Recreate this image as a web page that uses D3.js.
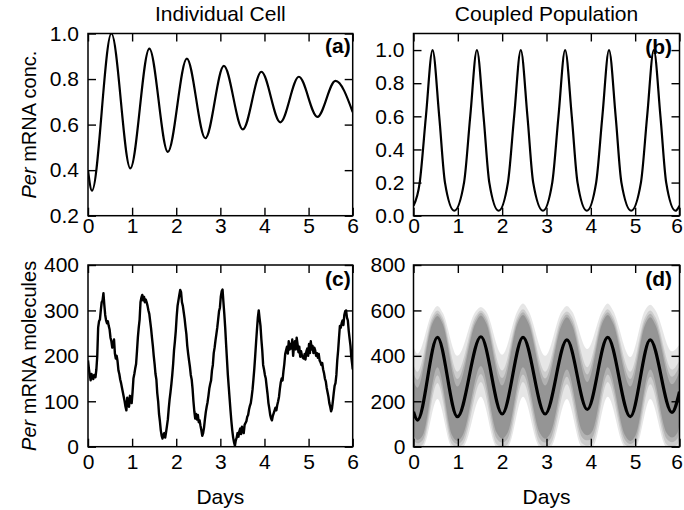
<!DOCTYPE html>
<html><head><meta charset="utf-8">
<script src="https://cdn.jsdelivr.net/npm/d3@7"></script>
<style>body{margin:0;background:#fff}svg{display:block}</style>
</head><body><svg id="c" width="684" height="510"></svg>
<script>
// ---------- data ----------
const dayTicks = [0, 1, 2, 3, 4, 5, 6];
const aTicks = [0.2, 0.4, 0.6, 0.8, 1.0];
const bTicks = [0.0, 0.2, 0.4, 0.6, 0.8, 1.0];
const cTicks = [0, 100, 200, 300, 400];
const dTicks = [0, 200, 400, 600, 800];

// (a) individual cell, deterministic
const aDays = [0, 0.09, 0.53, 0.96, 1.39, 1.81, 2.24, 2.66, 3.08, 3.51, 3.93, 4.36, 4.78, 5.2, 5.61, 6.0];
const aConc = [0.40, 0.31, 1.0, 0.408, 0.934, 0.48, 0.89, 0.54, 0.858, 0.579, 0.832, 0.61, 0.81, 0.634, 0.792, 0.655];

// (b) coupled population, deterministic
const bDays = [0, 0.14, 0.28, 0.43, 0.58, 0.71, 0.92, 1.14, 1.28, 1.43, 1.58, 1.71, 1.92, 2.13, 2.27, 2.42, 2.57, 2.70, 2.92,
  3.13, 3.27, 3.42, 3.57, 3.70, 3.91, 4.12, 4.26, 4.41, 4.56, 4.69, 4.91, 5.13, 5.27, 5.42, 5.57, 5.70, 5.91, 6.0];
const bConc = [0.06, 0.20, 0.60, 1.0, 0.60, 0.20, 0.03, 0.20, 0.60, 1.0, 0.60, 0.20, 0.03, 0.20, 0.60, 1.0, 0.60, 0.20, 0.03,
  0.20, 0.60, 1.0, 0.60, 0.20, 0.03, 0.20, 0.60, 1.0, 0.60, 0.20, 0.03, 0.20, 0.60, 1.0, 0.60, 0.20, 0.03, 0.06];

// (c) individual cell, stochastic
const cDays = [0.00,0.02,0.04,0.06,0.08,0.10,0.12,0.14,0.17,0.19,0.21,0.23,0.25,0.27,0.29,0.31,0.33,0.35,0.37,0.39,
  0.41,0.43,0.45,0.47,0.49,0.51,0.53,0.55,0.57,0.59,0.61,0.63,0.65,0.67,0.69,0.71,0.73,0.75,0.77,0.79,
  0.81,0.83,0.85,0.87,0.89,0.91,0.93,0.95,0.97,0.99,1.01,1.03,1.05,1.07,1.09,1.11,1.13,1.15,1.17,1.19,
  1.21,1.23,1.25,1.27,1.29,1.31,1.33,1.35,1.37,1.39,1.41,1.43,1.45,1.47,1.49,1.51,1.53,1.55,1.57,1.59,
  1.61,1.63,1.65,1.67,1.69,1.71,1.73,1.75,1.77,1.79,1.81,1.83,1.85,1.87,1.89,1.91,1.93,1.95,1.97,1.99,
  2.01,2.03,2.05,2.07,2.09,2.11,2.13,2.15,2.17,2.19,2.21,2.23,2.25,2.27,2.29,2.31,2.33,2.35,2.37,2.39,
  2.41,2.43,2.45,2.47,2.49,2.51,2.53,2.55,2.57,2.59,2.61,2.63,2.65,2.67,2.69,2.71,2.73,2.75,2.77,2.79,
  2.81,2.83,2.85,2.87,2.89,2.91,2.93,2.95,2.97,2.99,3.01,3.03,3.05,3.07,3.09,3.11,3.13,3.15,3.17,3.19,
  3.21,3.23,3.25,3.27,3.29,3.31,3.33,3.35,3.37,3.39,3.41,3.43,3.45,3.47,3.49,3.51,3.53,3.55,3.57,3.59,
  3.61,3.63,3.65,3.67,3.69,3.71,3.73,3.75,3.77,3.79,3.81,3.83,3.85,3.87,3.89,3.91,3.93,3.95,3.97,3.99,
  4.01,4.03,4.05,4.07,4.09,4.11,4.13,4.15,4.17,4.19,4.21,4.23,4.25,4.27,4.29,4.31,4.33,4.35,4.37,4.39,
  4.41,4.43,4.45,4.47,4.49,4.51,4.53,4.55,4.57,4.59,4.61,4.63,4.65,4.67,4.69,4.71,4.73,4.75,4.77,4.79,
  4.81,4.83,4.85,4.87,4.89,4.91,4.93,4.95,4.97,4.99,5.01,5.03,5.05,5.07,5.09,5.11,5.13,5.15,5.17,5.19,
  5.21,5.23,5.25,5.27,5.29,5.31,5.33,5.35,5.37,5.39,5.41,5.43,5.45,5.47,5.49,5.51,5.53,5.55,5.57,5.59,
  5.61,5.63,5.65,5.67,5.69,5.71,5.73,5.75,5.77,5.79,5.81,5.83,5.85,5.87,5.89,5.91,5.93,5.95,5.97,5.99,6.00];
const cMolecules = [190,172,158,146,160,152,149,158,153,170,200,262,276,280,300,318,322,338,312,290,
  278,272,276,266,258,240,232,218,226,236,205,194,200,188,168,160,148,140,130,120,
  110,100,88,80,108,96,88,112,104,96,120,150,160,172,182,210,240,262,280,318,
  328,334,322,330,318,324,318,310,300,292,276,260,240,222,200,182,160,148,118,100,
  72,56,36,24,18,26,30,20,32,46,60,84,104,120,138,158,182,212,232,255,
  286,310,322,334,345,340,318,310,296,282,264,248,222,205,190,176,158,148,128,100,
  78,62,72,60,70,54,58,46,36,24,30,42,60,76,88,98,112,128,138,146,
  168,180,206,218,234,248,262,280,298,306,330,342,346,318,292,262,226,192,158,132,
  106,80,56,36,20,10,2,14,20,30,22,34,40,28,44,36,30,48,52,56,
  66,70,82,90,96,110,126,148,172,200,230,258,284,300,282,266,236,212,180,170,
  158,150,132,116,96,84,70,62,58,68,74,80,86,80,92,100,110,128,142,150,
  146,166,182,204,212,220,205,232,214,226,216,236,200,222,232,214,240,226,208,220,
  198,210,200,196,194,204,192,210,216,200,226,206,232,214,222,206,218,212,200,206,
  196,204,190,186,180,184,170,162,150,144,130,120,110,96,88,78,84,100,118,134,
  140,158,190,212,240,266,262,272,278,268,290,298,300,284,278,255,238,222,196,180,170];

// (d) coupled population: ensemble mean and spread of single-cell traces
const dDays = [0, 0.09, 0.54, 0.99, 1.52, 2.0, 2.47, 2.97, 3.46, 3.92, 4.38, 4.89, 5.34, 5.83, 6.0];
const dMean = [154, 117, 481, 132, 484, 144, 481, 144, 470, 164, 481, 132, 470, 151, 242];
// upper edges of the grey cloud (outer haze -> dense core)
const dHiDays = [0, 0.09, 0.42, 0.54, 0.66, 0.99, 1.40, 1.52, 1.64, 2.0, 2.35, 2.47, 2.59, 2.97,
  3.34, 3.46, 3.58, 3.92, 4.26, 4.38, 4.50, 4.89, 5.22, 5.34, 5.46, 5.83, 6.0];
const outerHi = [440, 410, 590, 620, 590, 400, 595, 615, 595, 405, 600, 630, 600, 400,
  595, 620, 595, 430, 600, 630, 600, 395, 600, 625, 600, 420, 450];
const midHi = [360, 330, 570, 600, 570, 330, 575, 600, 575, 335, 575, 605, 575, 330,
  570, 595, 570, 350, 575, 605, 575, 330, 570, 600, 570, 340, 380];
const innerHi = [325, 295, 555, 588, 555, 298, 560, 590, 560, 302, 560, 592, 560, 300,
  552, 582, 552, 318, 560, 592, 560, 298, 552, 585, 552, 308, 355];
const coreHi = [290, 260, 540, 575, 540, 265, 545, 578, 545, 270, 545, 580, 545, 270,
  535, 570, 535, 285, 545, 580, 545, 265, 535, 570, 535, 275, 330];
// lower edges of the grey cloud
const dLoDays = [0, 0.09, 0.21, 0.54, 0.87, 0.99, 1.11, 1.52, 1.88, 2.0, 2.12, 2.47, 2.85, 2.97,
  3.09, 3.46, 3.80, 3.92, 4.04, 4.38, 4.77, 4.89, 5.01, 5.34, 5.71, 5.83, 5.95, 6.0];
const outerLo = [0, 0, 0, 210, 0, 0, 0, 220, 0, 0, 0, 220, 0, 0,
  0, 210, 0, 0, 0, 220, 0, 0, 0, 210, 0, 0, 0, 0];
const midLo = [10, 0, 10, 280, 10, 0, 10, 285, 10, 0, 10, 285, 10, 0,
  10, 275, 15, 5, 15, 285, 10, 0, 10, 275, 10, 0, 10, 40];
const innerLo = [30, 15, 30, 315, 30, 12, 30, 320, 35, 18, 35, 318, 35, 18,
  35, 308, 42, 28, 42, 318, 30, 12, 30, 308, 35, 20, 35, 70];
const coreLo = [50, 30, 50, 350, 50, 25, 50, 355, 60, 35, 60, 350, 60, 35,
  60, 340, 70, 50, 70, 350, 50, 25, 50, 340, 60, 40, 60, 100];

// ---------- drawing ----------
const FONT = "'Liberation Sans', Arial, Helvetica, sans-serif";
const TICKFONT = 21;
const svg = d3.select("#c");
const defs = svg.append("defs");
const COL = [88, 352.7, 413.5, 679.5];
const ROW = [33.5, 215.7, 265, 446.7];

function makePanel(id, x0, x1, y0, y1, yDomain) {
  const x = d3.scaleLinear().domain([0, 6]).range([x0, x1]);
  const y = d3.scaleLinear().domain(yDomain).range([y1, y0]);
  defs.append("clipPath").attr("id", "clip" + id)
    .append("rect").attr("x", x0).attr("y", y0).attr("width", x1 - x0).attr("height", y1 - y0);
  const plot = svg.append("g").attr("clip-path", `url(#clip${id})`);
  return { x, y, plot, x0, x1, y0, y1 };
}

function finishPanel(p, yTicks, yFmt, xPad, yPad, label, labelDx, labelY) {
  const styleAxis = g => {
    g.select(".domain").remove();
    g.selectAll(".tick line").attr("stroke", "#000").attr("stroke-width", 1.4);
    g.selectAll("text").attr("font-family", FONT).attr("font-size", TICKFONT).attr("fill", "#000");
  };
  const xb = svg.append("g").attr("transform", `translate(0,${p.y1})`)
    .call(d3.axisBottom(p.x).tickValues(dayTicks).tickSize(-8).tickPadding(xPad).tickFormat(d3.format("d")))
    .call(styleAxis);
  // keep the last tick label inside the picture edge
  xb.selectAll(".tick text").filter(d => d === 6 && p.x1 > 670).attr("dx", -3);
  svg.append("g").attr("transform", `translate(0,${p.y0})`)
    .call(d3.axisTop(p.x).tickValues(dayTicks).tickSize(-8).tickFormat(""))
    .call(styleAxis);
  svg.append("g").attr("transform", `translate(${p.x0},0)`)
    .call(d3.axisLeft(p.y).tickValues(yTicks).tickSize(-8).tickPadding(yPad).tickFormat(yFmt))
    .call(styleAxis);
  svg.append("g").attr("transform", `translate(${p.x1},0)`)
    .call(d3.axisRight(p.y).tickValues(yTicks).tickSize(-8).tickFormat(""))
    .call(styleAxis);
  svg.append("rect").attr("x", p.x0).attr("y", p.y0)
    .attr("width", p.x1 - p.x0).attr("height", p.y1 - p.y0)
    .attr("fill", "none").attr("stroke", "#000").attr("stroke-width", 1.5);
  svg.append("text").attr("x", p.x1 - labelDx).attr("y", p.y0 + labelY)
    .attr("text-anchor", "end").attr("font-family", FONT).attr("font-size", 21)
    .attr("font-weight", "bold").text(label);
}

function lineOf(p, xs, ys, curve) {
  return d3.line().x((d, i) => p.x(xs[i])).y(d => p.y(d)).curve(curve)(ys);
}

// (a)
const pa = makePanel("a", COL[0], COL[1], ROW[0], ROW[1], [0.2, 1.0]);
pa.plot.append("path").attr("d", lineOf(pa, aDays, aConc, d3.curveMonotoneX))
  .attr("fill", "none").attr("stroke", "#000").attr("stroke-width", 2.2);
finishPanel(pa, aTicks, d3.format(".1f"), 2, 9, "(a)", 2, 19.5);

// (b)
const pb = makePanel("b", COL[2], COL[3], ROW[0], ROW[1], [0, 1.1]);
pb.plot.append("path").attr("d", lineOf(pb, bDays, bConc, d3.curveMonotoneX))
  .attr("fill", "none").attr("stroke", "#000").attr("stroke-width", 2.2);
finishPanel(pb, bTicks, d3.format(".1f"), 2, 9, "(b)", 7.5, 20.5);

// (c)
const pc = makePanel("c", COL[0], COL[1], ROW[2], ROW[3], [0, 400]);
pc.plot.append("path").attr("d", lineOf(pc, cDays, cMolecules, d3.curveLinear))
  .attr("fill", "none").attr("stroke", "#000").attr("stroke-width", 2.4).attr("stroke-linejoin", "round");
finishPanel(pc, cTicks, d3.format("d"), 7, 9, "(c)", 2, 21);

// (d)
const pd = makePanel("d", COL[2], COL[3], ROW[2], ROW[3], [0, 800]);
function drawBand(hiVals, loVals, color, idx) {
  const id = "band" + idx;
  const base = pd.y(0) + 10;
  const hiArea = d3.area().x((d, i) => pd.x(dHiDays[i])).y0(base).y1(d => pd.y(d)).curve(d3.curveMonotoneX);
  const loArea = d3.area().x((d, i) => pd.x(dLoDays[i])).y0(base).y1(d => pd.y(d)).curve(d3.curveMonotoneX);
  const mask = defs.append("mask").attr("id", id).attr("maskUnits", "userSpaceOnUse")
    .attr("x", 0).attr("y", 0).attr("width", 684).attr("height", 510);
  mask.append("path").attr("d", hiArea(hiVals)).attr("fill", "#fff");
  mask.append("path").attr("d", loArea(loVals)).attr("fill", "#000");
  pd.plot.append("rect").attr("x", pd.x0).attr("y", pd.y0)
    .attr("width", pd.x1 - pd.x0).attr("height", pd.y1 - pd.y0)
    .attr("fill", color).attr("mask", `url(#${id})`);
}
drawBand(outerHi, outerLo, "#e6e6e6", 0);
drawBand(midHi, midLo, "#cdcdcd", 1);
drawBand(innerHi, innerLo, "#b2b2b2", 2);
drawBand(coreHi, coreLo, "#959595", 3);
pd.plot.append("path").attr("d", lineOf(pd, dDays, dMean, d3.curveMonotoneX))
  .attr("fill", "none").attr("stroke", "#000").attr("stroke-width", 3.2);
finishPanel(pd, dTicks, d3.format("d"), 7, 8, "(d)", 7.5, 20.5);

// titles and axis labels
const txt = (x, y, s) => svg.append("text").attr("x", x).attr("y", y)
  .attr("text-anchor", "middle").attr("font-family", FONT).attr("font-size", 21).text(s);
txt((COL[0] + COL[1]) / 2, 21, "Individual Cell");
txt((COL[2] + COL[3]) / 2, 21, "Coupled Population");
txt((COL[0] + COL[1]) / 2, 504, "Days");
txt((COL[2] + COL[3]) / 2, 504, "Days");
function yTitle(cy, rest) {
  const t = svg.append("text").attr("x", 36).attr("y", cy).attr("text-anchor", "middle")
    .attr("font-family", FONT).attr("font-size", 20).attr("transform", `rotate(-90,36,${cy})`);
  t.append("tspan").attr("font-style", "italic").text("Per");
  t.append("tspan").text(" " + rest);
}
yTitle((ROW[0] + ROW[1]) / 2, "mRNA conc.");
yTitle((ROW[2] + ROW[3]) / 2, "mRNA molecules");
</script></body></html>
